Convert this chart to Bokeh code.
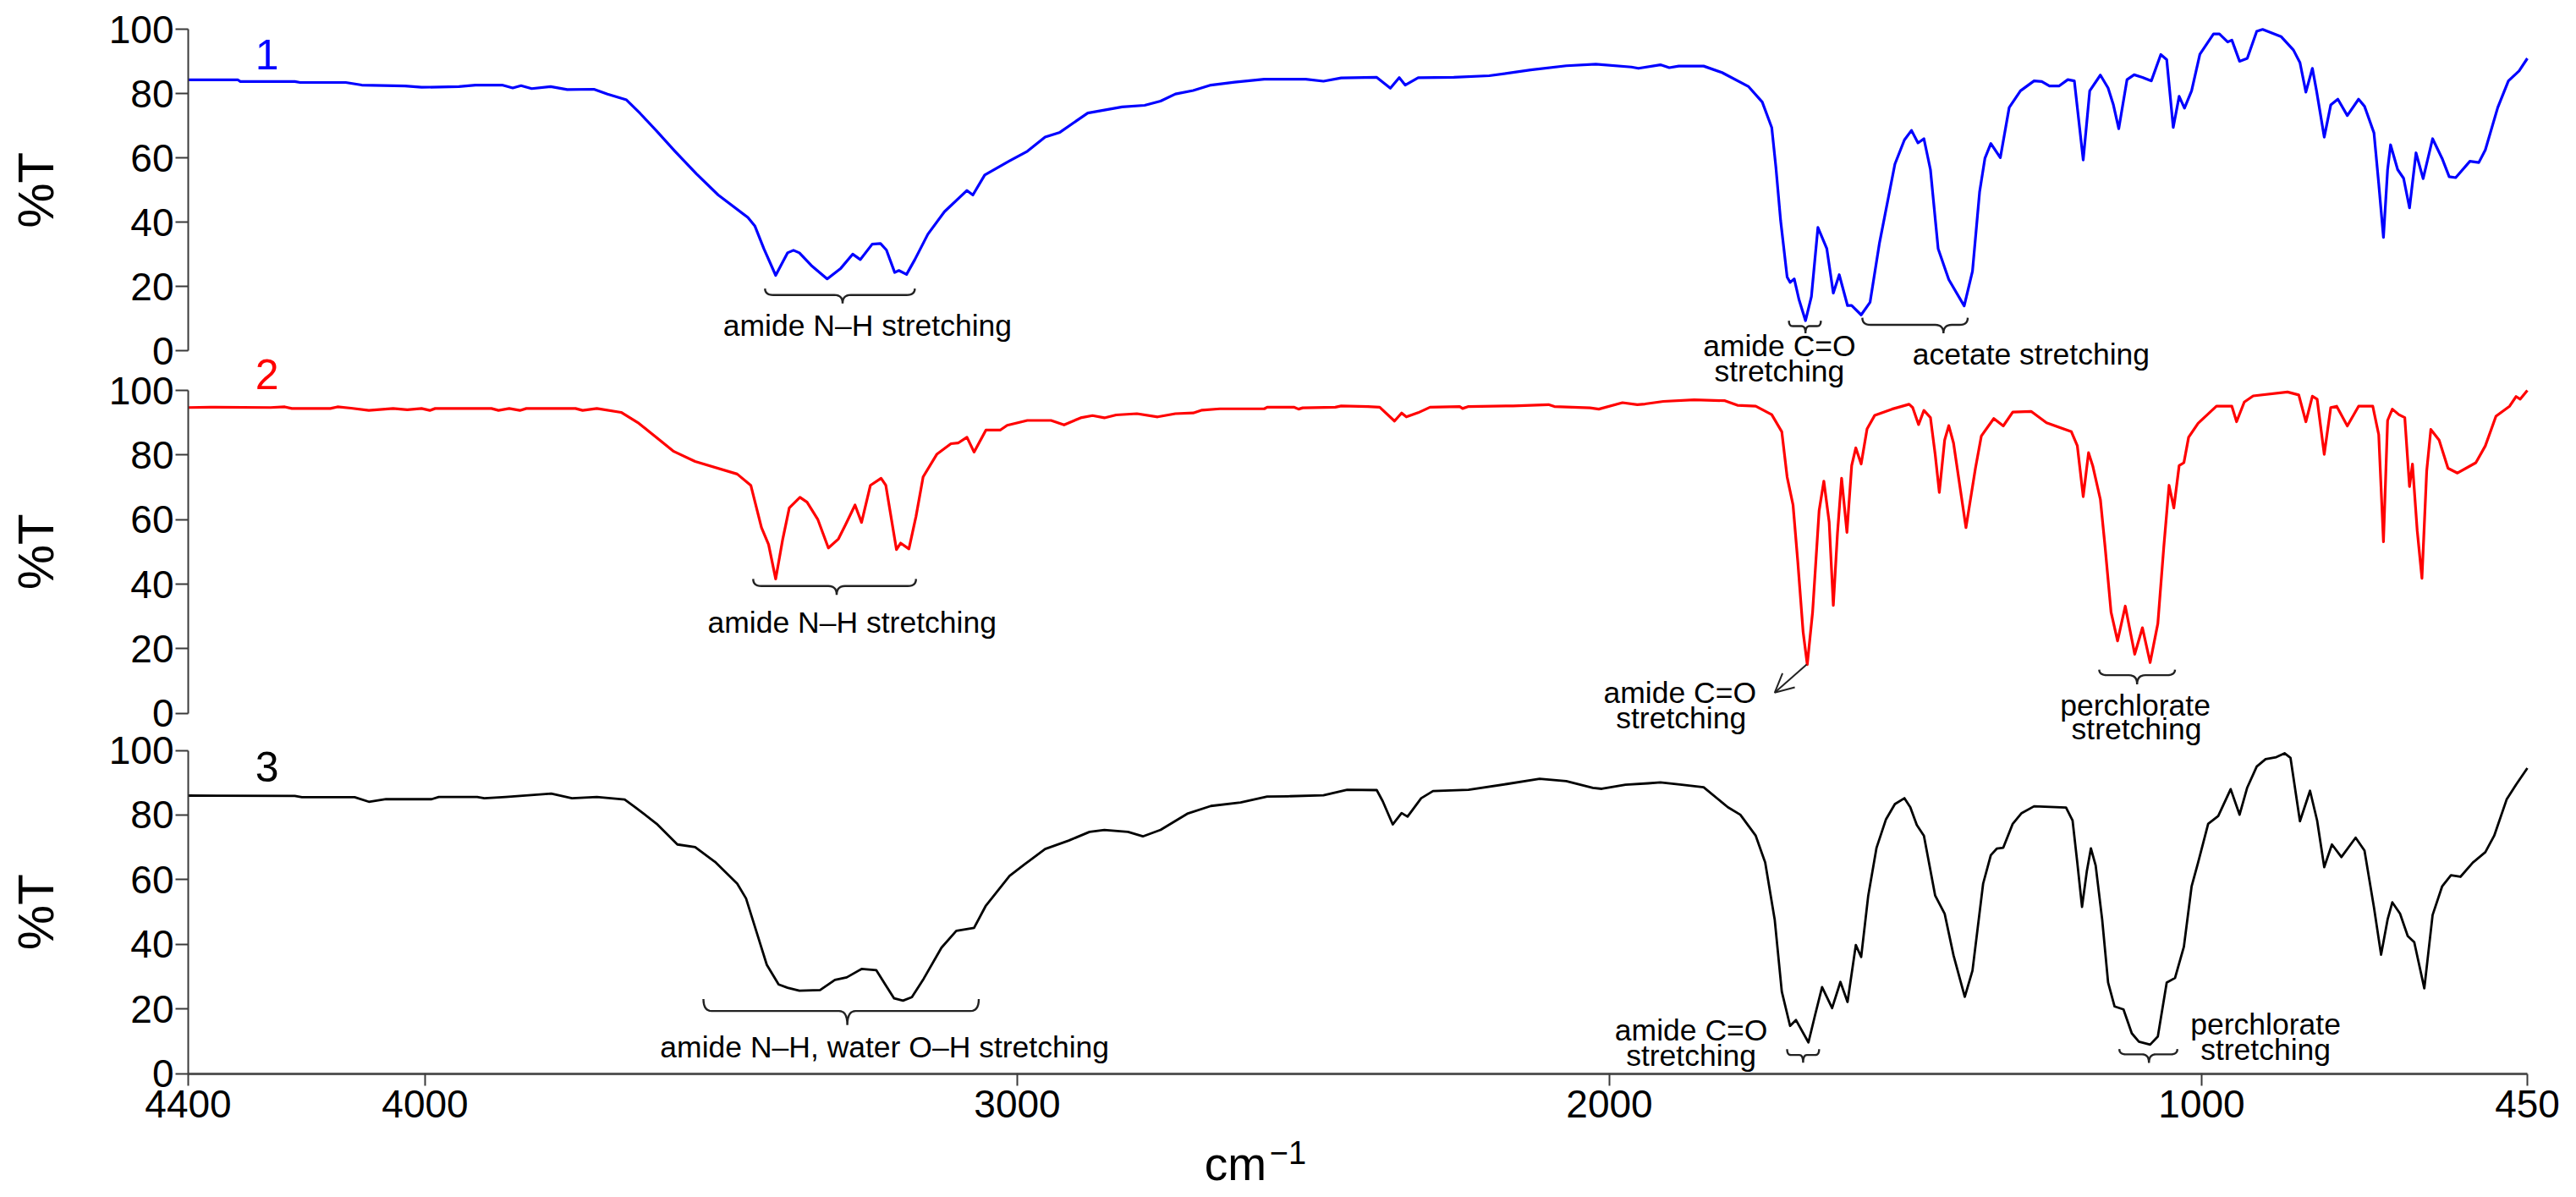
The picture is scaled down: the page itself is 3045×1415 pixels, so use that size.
import numpy as np
from bokeh.plotting import figure
from bokeh.models import Range1d, LinearAxis, FixedTicker, Label, Arrow, OpenHead
from bokeh.embed import file_html
from bokeh.resources import INLINE

# ---- data ----
wn1 = [4400,4316,4312,4220,4211,4134,4107,4034,4006,3943,3915,3870,3852,3838,3820,3788,3760,3715,3692,3660,3637,3610,3578,3542,3505,3455,3443,3428,3408,3388,3378,3368,3348,3321,3298,3278,3265,3245,3231,3221,3207,3200,3187,3173,3151,3123,3085,3075,3055,3013,2983,2953,2928,2881,2823,2785,2758,2733,2703,2673,2633,2583,2513,2483,2453,2393,2370,2355,2345,2323,2263,2203,2133,2073,2023,1963,1951,1914,1899,1883,1841,1810,1765,1742,1726,1719,1711,1700,1695,1688,1680,1669,1659,1648,1633,1622,1612,1598,1591,1575,1560,1544,1518,1502,1490,1479,1469,1458,1445,1427,1401,1387,1375,1366,1356,1340,1325,1306,1283,1270,1257,1241,1226,1215,1200,1189,1171,1158,1149,1140,1126,1114,1100,1085,1069,1059,1048,1038,1029,1017,1003,980,970,956,949,936,923,907,897,866,845,834,824,813,806,793,782,770,754,735,725,709,701,693,686,681,669,659,649,638,626,610,594,582,571,547,532,521,500,482,464,450]
t1 = [84.3,84.3,83.8,83.8,83.5,83.5,82.7,82.4,82.0,82.2,82.7,82.7,81.8,82.5,81.6,82.2,81.3,81.4,79.9,78.1,73.9,68.6,62.1,55.1,48.5,41.5,38.8,31.8,23.5,30.5,31.3,30.5,26.6,22.4,25.7,30.1,28.4,33.2,33.4,31.4,24.4,25,23.8,28.4,36.3,43.3,49.9,48.5,54.7,59.1,62.1,66.5,68,74,75.9,76.4,77.7,79.9,81,82.7,83.6,84.5,84.5,83.9,84.9,85.1,81.7,85,82.7,85,85.1,85.6,87.4,88.7,89.2,88.3,87.9,89,88.1,88.6,88.6,86.6,82.2,77.4,69.5,57.2,40.6,23,21.3,22.4,16,9.4,16.9,38.4,31.8,18,23.7,14.1,14.1,11.2,15.1,33.6,58.1,65.6,68.6,64.7,66,56.4,31.8,22.2,14,24.8,49.4,59.9,64.5,60.1,75.7,80.9,84,83.8,82.4,82.4,84.4,84,59.4,80.9,85.8,81.8,76.5,69.1,84.4,85.9,85.1,84,92.2,90.6,69.5,79.2,75.5,80.9,92.3,98.6,98.6,96.1,96.7,90.1,91,99.4,100,97.8,93.6,89.7,80.5,87.9,80.9,66.5,76.5,78.3,73.2,78.3,76.1,67.8,52,35.3,56.4,64.1,56.4,53.7,44.5,61.6,53.6,66,59.9,54.2,53.9,59,58.6,62.5,75.7,84,87.1,91]

wn2 = [4400,4362,4261,4237,4225,4160,4148,4125,4095,4054,4030,4006,3992,3983,3888,3876,3858,3840,3829,3746,3734,3710,3669,3639,3610,3580,3544,3473,3450,3432,3420,3408,3396,3385,3367,3355,3337,3319,3302,3290,3274,3263,3248,3230,3222,3204,3197,3183,3171,3159,3136,3112,3100,3085,3073,3053,3029,3017,2983,2943,2921,2893,2873,2853,2833,2798,2763,2733,2703,2688,2658,2583,2578,2533,2525,2518,2463,2453,2408,2388,2363,2351,2343,2323,2303,2253,2248,2238,2163,2103,2093,2033,2018,1978,1953,1940,1909,1857,1805,1784,1753,1726,1709,1700,1690,1682,1673,1666,1657,1646,1638,1629,1622,1615,1608,1599,1591,1584,1575,1565,1552,1523,1494,1488,1478,1469,1458,1450,1443,1434,1427,1419,1398,1382,1372,1351,1335,1319,1288,1262,1220,1210,1200,1191,1184,1171,1163,1153,1142,1129,1113,1100,1087,1074,1064,1055,1047,1038,1030,1022,1006,975,949,941,928,913,855,836,824,813,805,793,782,772,754,735,711,701,693,686,678,667,657,649,644,636,628,620,613,599,584,568,537,521,503,480,469,462,450]
t2 = [94.7,94.8,94.7,94.9,94.4,94.4,94.9,94.5,93.8,94.4,94,94.4,93.8,94.4,94.4,93.8,94.4,93.8,94.4,94.4,93.8,94.4,93.2,89.8,85.5,81.1,78,74.1,70.6,57.5,52.3,41.6,54,63.6,66.9,65.4,60.1,51.2,54,58.4,64.5,59.1,70.6,72.8,70.6,50.7,52.7,50.9,61,73.2,80.2,83.5,83.7,85.5,80.9,87.7,87.7,89.2,90.7,90.7,89.3,91.5,92.2,91.5,92.4,92.8,91.8,92.8,93,93.9,94.3,94.3,94.8,94.8,94.2,94.6,94.8,95.2,95,94.8,90.5,93,91.8,93.1,94.8,95,94.4,95,95.2,95.6,95,94.6,94.2,96.2,95.6,95.8,96.6,97.1,96.8,95.4,95.1,92.5,87.2,73.2,64.5,47,25.2,15.1,31.3,62.7,71.9,59.2,33.4,55.7,72.8,56,76.7,82.2,77.2,88.1,92.3,94.2,95.7,94.7,89.4,93.8,91.6,80.2,68.4,84.6,89.1,83.7,57.5,75.9,85.9,91.3,89,93.3,93.5,90,87.2,82.9,67.1,80.7,76.7,66.2,51.4,31.3,22.4,33.2,18.3,26.5,15.7,27.8,51.4,70.6,63.6,76.7,77.6,85.5,89.8,95.1,95.1,90.3,96.4,98.3,99.5,98.6,90.3,98.2,97.3,80.2,94.7,95.1,89,95.1,95.1,86.3,53.1,90.7,94.2,92.5,91.6,70.2,77.2,56.6,41.8,75,87.9,84.6,75.9,74.4,77.6,82.8,92,95.1,98.1,97.3,100]

wn3 = [4400,4220,4208,4119,4095,4066,3989,3977,3912,3900,3864,3787,3752,3710,3663,3645,3609,3574,3544,3509,3473,3458,3438,3423,3403,3388,3368,3333,3308,3288,3263,3238,3223,3208,3193,3178,3158,3128,3103,3073,3053,3013,2988,2953,2913,2878,2853,2813,2788,2758,2713,2673,2623,2578,2543,2483,2443,2393,2383,2366,2351,2341,2318,2298,2238,2173,2118,2073,2028,2013,1973,1935,1914,1878,1841,1800,1779,1753,1737,1721,1709,1695,1685,1664,1653,1641,1624,1610,1598,1584,1575,1563,1549,1533,1518,1502,1492,1481,1469,1450,1434,1419,1400,1387,1369,1356,1346,1335,1319,1304,1283,1229,1218,1210,1202,1194,1187,1179,1168,1158,1147,1132,1118,1106,1087,1074,1059,1045,1030,1017,1006,989,972,951,936,923,907,892,874,860,850,834,817,805,793,780,764,740,725,709,697,686,678,665,652,641,624,610,594,579,563,542,521,506,485,469,450]
t3 = [86,85.9,85.5,85.5,84.1,84.9,84.9,85.6,85.6,85.2,85.6,86.6,85.2,85.6,84.8,82.4,77.3,70.9,70.1,65.3,58.8,54.2,42.5,33.7,27.6,26.6,25.7,25.9,29,29.8,32.4,32,27.6,23.3,22.6,23.7,29.4,39,44.2,45.1,52,61.2,64.7,69.5,72.1,74.8,75.4,74.8,73.4,75.4,80.4,82.8,83.9,85.7,85.8,86.1,87.8,87.7,84.3,77.1,80.6,79.5,85.2,87.4,87.8,89.6,91.2,90.5,88.4,88.1,89.4,89.8,90.1,89.4,88.6,82.4,80.1,73.6,65.3,47.7,25.4,14.8,16.6,9.7,18,26.8,20.3,28.4,22.2,39.8,36.1,55.1,69.9,78.7,83.4,85.2,82.4,76.9,73.6,55.1,49.5,36.6,23.8,31.9,58.8,67.6,69.6,69.9,77.3,80.6,82.7,82.3,78.3,65.3,51.6,62.5,69.7,64.4,47.7,28.2,20.8,19.9,12.5,9.9,9,11.5,28.2,29.6,39.3,57.9,65.3,77.3,79.7,88,80.1,88.5,95,97.3,97.9,99.1,97.7,78.1,87.5,78.3,63.9,70.9,67,73,69,51.4,36.8,47.7,53,49.5,42.6,40.7,26.4,49.1,57.9,61.4,60.9,65.3,68.5,73.6,84.8,89.4,94.5]

x_ticks = [4400, 4000, 3000, 2000, 1000, 450]
y_ticks = [0, 20, 40, 60, 80, 100]
series_colors = ["#0000ff", "#ff0000", "#000000"]

# ---- layout: the frame fills the canvas, so fixed axes and notes are not clipped ----
W, H = 3045, 1415
PX_LEFT, PX_RIGHT = 222.0, 2987.0       # columns of 4400 and 450
PANEL_ROWS = {"p1": (34.3, 414.3), "p2": (461.0, 842.7), "default": (886.5, 1268.8)}
per_x = (PX_RIGHT - PX_LEFT) / (4400 - 450)
ranges = {}
for name, (r100, r0) in PANEL_ROWS.items():
    per = (r0 - r100) / 100.0
    ranges[name] = Range1d((r0 - H) / per, r0 / per)

FONT = "Liberation Sans"
AX = "#3a3a3a"

p = figure(width=W, height=H, frame_width=W, frame_height=H,
           x_range=Range1d(4400 + PX_LEFT / per_x, 4400 - (W - PX_LEFT) / per_x),
           y_range=ranges["default"],
           x_axis_location=None, y_axis_location=None, output_backend="svg", toolbar_location=None,
           min_border=0, background_fill_color="white", border_fill_color="white")
p.extra_y_ranges = {"p1": ranges["p1"], "p2": ranges["p2"]}
p.grid.visible = False
p.outline_line_color = None

xa = LinearAxis(fixed_location=0, bounds=(450, 4400), ticker=FixedTicker(ticks=x_ticks))
xa.major_label_overrides = {t: str(t) for t in x_ticks}
xa.minor_tick_line_color = None
xa.major_tick_in = 0
xa.major_tick_out = 14
xa.major_tick_line_color = AX
xa.major_tick_line_width = 2
xa.axis_line_color = "#555555"
xa.axis_line_width = 3
xa.major_label_text_font = FONT
xa.major_label_text_font_size = "46px"
xa.major_label_text_color = "#000000"
xa.major_label_standoff = 6
p.add_layout(xa, "below")

panel_keys = ["p1", "p2", "default"]
for key in panel_keys:
    ya = LinearAxis(y_range_name=key, fixed_location=4400,
                    bounds=(0, 100), ticker=FixedTicker(ticks=y_ticks))
    ya.minor_tick_line_color = None
    ya.major_tick_in = 0
    ya.major_tick_out = 15
    ya.major_tick_line_color = AX
    ya.major_tick_line_width = 2
    ya.axis_line_color = AX
    ya.axis_line_width = 2
    ya.major_label_text_font = FONT
    ya.major_label_text_font_size = "46px"
    ya.major_label_text_color = "#000000"
    ya.major_label_standoff = 2
    p.add_layout(ya, "left")

for key, xs, ys, col in zip(panel_keys, [wn1, wn2, wn3], [t1, t2, t3], series_colors):
    p.line(xs, ys, line_color=col, line_width=3.2 if key != "default" else 2.8, line_join="round",
           y_range_name=key)


def label(text, x, y, key, size=35.5, color="#000000", align="center", baseline="middle", angle=0):
    p.add_layout(Label(x=x, y=y, text=text, y_range_name=key, text_font=FONT,
                       text_font_size=f"{size}px", text_color=color, text_align=align,
                       text_baseline=baseline, angle=angle))


def bez(a, b, c):
    t = np.linspace(0, 1, 8)
    return [(1 - s) ** 2 * a + 2 * s * (1 - s) * b + s ** 2 * c for s in t]


def brace(lo, hi, tip, top, bar, point, key):
    dx = min(14.0, (hi - lo) * 0.12)
    xs = bez(hi, hi, hi - dx) + bez(tip + dx, tip, tip) + bez(tip, tip, tip - dx) + bez(lo + dx, lo, lo)
    ys = bez(top, bar, bar) + bez(bar, bar, point) + bez(point, bar, bar) + bez(bar, bar, top)
    p.line(xs, ys, line_color="#222222", line_width=2.4, y_range_name=key)


# labels of the three traces
label("1", 4267, 92.2, "p1", size=50, color=series_colors[0])
label("2", 4267, 104.9, "p2", size=50, color=series_colors[1])
label("3", 4267, 95.0, "default", size=50, color=series_colors[2])

# %T axis titles
label("%T", 4657, 50, "p1", size=60, angle=np.pi / 2)
label("%T", 4657, 50, "p2", size=60, angle=np.pi / 2)
label("%T", 4657, 50, "default", size=60, angle=np.pi / 2)

# panel 1 notes
label("amide N–H stretching", 3253, 7.8, "p1")
brace(3173, 3426, 3295, 19.4, 17.4, 14.8, "p1")
label("amide C=O", 1713, 1.5, "p1")
label("stretching", 1713, -6.4, "p1")
brace(1643, 1697, 1669, 9.4, 7.7, 5.5, "p1")
label("acetate stretching", 1288, -1.1, "p1")
brace(1395, 1573, 1436, 10.3, 8.1, 5.5, "p1")

# panel 2 notes
label("amide N–H stretching", 3279, 28.2, "p2")
brace(3171, 3446, 3305, 41.6, 39.4, 36.7, "p2")
label("amide C=O", 1881, 6.4, "p2")
label("stretching", 1879, -1.5, "p2")
p.add_layout(Arrow(x_start=1667, y_start=15.1, x_end=1721, y_end=6.4, y_range_name="p2",
                   line_color="#222222", line_width=2,
                   end=OpenHead(size=22, line_color="#222222", line_width=2)))
brace(1045, 1173, 1109, 13.5, 11.8, 9.0, "p2")
label("perchlorate", 1112, 2.4, "p2")
label("stretching", 1110, -5.0, "p2")

# panel 3 notes
label("amide N–H, water O–H stretching", 3224, 8.3, "default")
brace(3065, 3530, 3287, 23.1, 19.4, 15.1, "default")
label("amide C=O", 1862, 13.4, "default")
label("stretching", 1862, 5.5, "default")
brace(1646, 1700, 1673, 7.6, 5.8, 3.4, "default")
brace(1041, 1139, 1089, 7.6, 6.0, 3.4, "default")
label("perchlorate", 892, 15.2, "default")
label("stretching", 892, 7.4, "default")

# x axis title
label("cm", 2684, -27.8, "default", size=55, align="left", baseline="alphabetic")
label("−1", 2574, -24.4, "default", size=38, align="left", baseline="alphabetic")

open("out.html", "w").write(file_html(p, INLINE))
